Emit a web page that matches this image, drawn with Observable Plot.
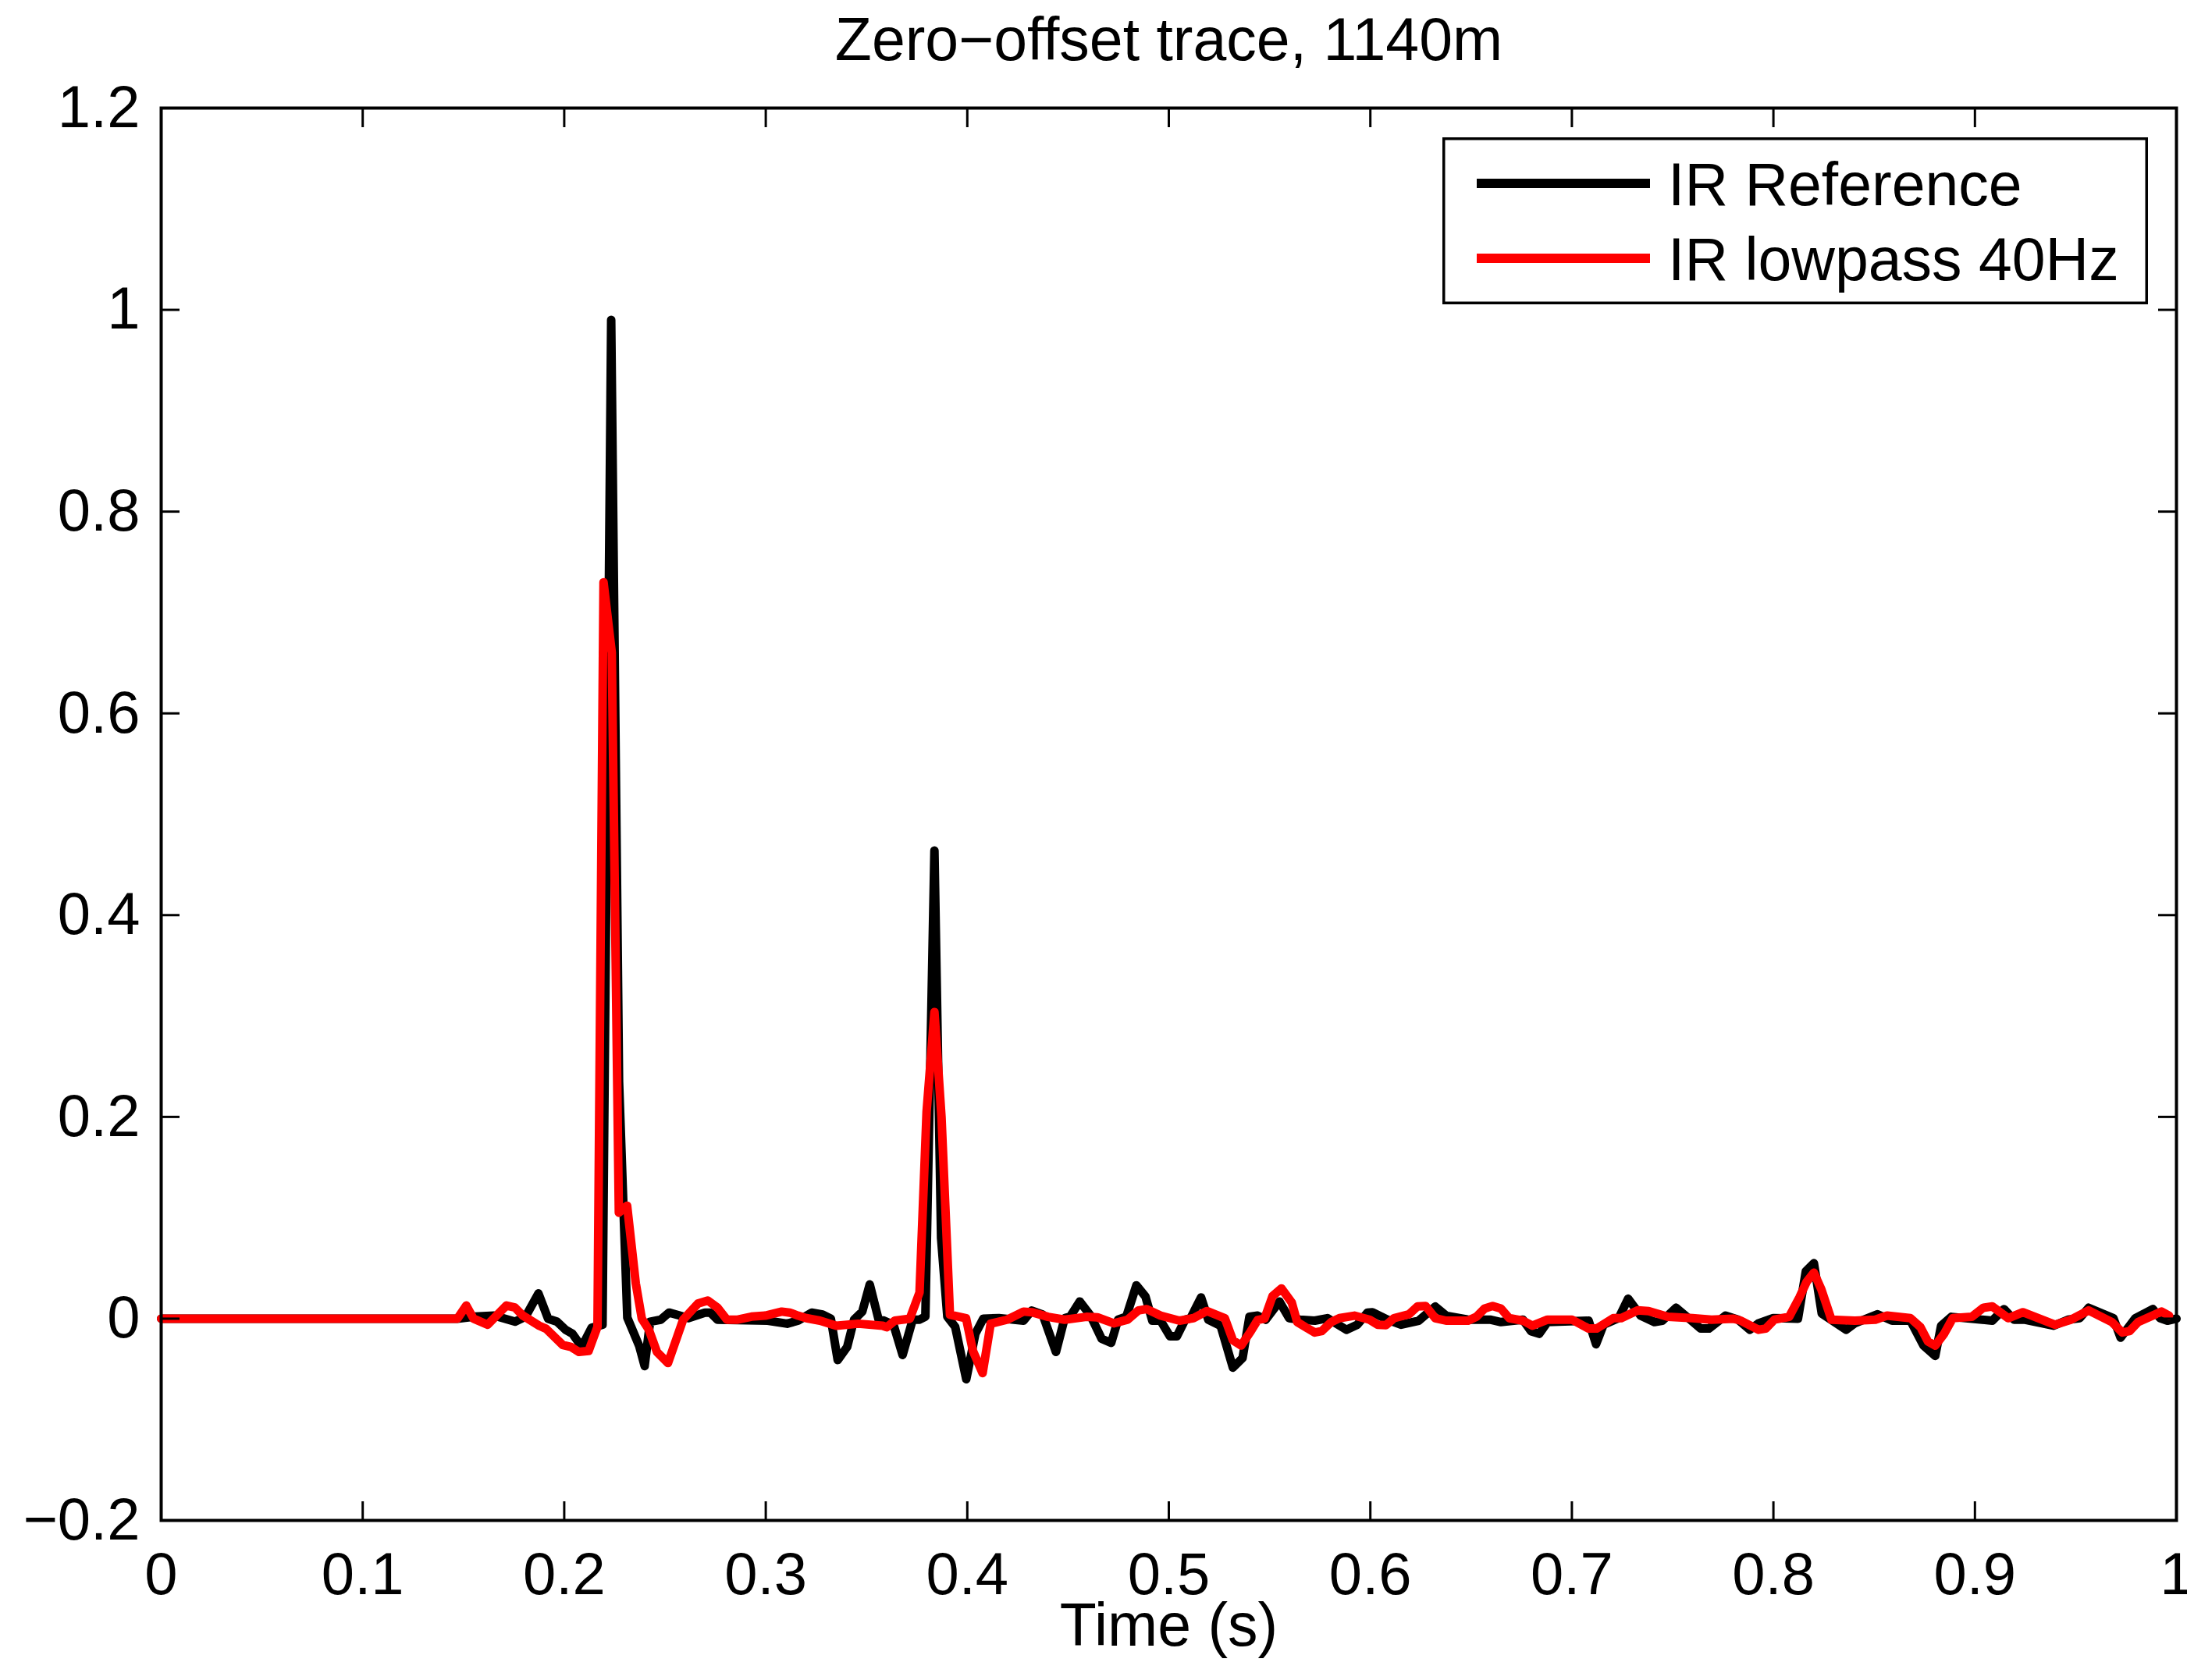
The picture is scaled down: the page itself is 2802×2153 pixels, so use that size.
<!DOCTYPE html>
<html>
<head>
<meta charset="utf-8">
<script src="https://cdn.jsdelivr.net/npm/d3@7"></script>
<script src="https://cdn.jsdelivr.net/npm/@observablehq/plot@0.6"></script>
<style>
html, body { margin: 0; padding: 0; background: #fff; overflow: hidden; }
#wrap { position: relative; width: 2802px; height: 2153px; }
#legend { position: absolute; left: 1848px; top: 176px; }
</style>
</head>
<body>
<div id="wrap"></div>
<script>
const chartTitle = "Zero\u2212offset trace, 1140m";
const xLabel = "Time (s)";
const xTicks = [0, 0.1, 0.2, 0.3, 0.4, 0.5, 0.6, 0.7, 0.8, 0.9, 1];
const yTicks = [-0.2, 0, 0.2, 0.4, 0.6, 0.8, 1, 1.2];
const seriesNames = ["IR Reference", "IR lowpass 40Hz"];
const seriesColors = ["#000000", "#ff0000"];

// [time (s), amplitude]
const irReference = [
[0,0],[0.147,0],[0.1557,0.002],[0.1652,0.003],[0.1756,-0.003],[0.1808,0.002],[0.1872,0.025],[0.192,0],[0.1964,-0.003],[0.2007,-0.011],[0.2041,-0.015],[0.2087,-0.028],[0.2136,-0.009],[0.219,-0.006],[0.2233,0.99],[0.2272,0.235],[0.2313,0.001],[0.2372,-0.027],[0.2399,-0.047],[0.2426,-0.003],[0.2479,-0.001],[0.252,0.006],[0.2574,0.003],[0.2616,0.0005],[0.2698,0.006],[0.2725,0.006],[0.276,-0.001],[0.301,-0.002],[0.3106,-0.005],[0.316,-0.002],[0.3228,0.006],[0.3282,0.004],[0.3323,0],[0.3357,-0.041],[0.3404,-0.028],[0.3438,-0.001],[0.3479,0.007],[0.3516,0.034],[0.356,-0.001],[0.3587,-0.002],[0.3634,-0.006],[0.3679,-0.036],[0.3729,-0.001],[0.3763,-0.001],[0.3792,0.002],[0.3837,0.464],[0.387,0.08],[0.3901,0.002],[0.394,-0.008],[0.3995,-0.06],[0.404,-0.015],[0.4079,0],[0.4157,0.0005],[0.4279,-0.002],[0.432,0.008],[0.4374,0.004],[0.444,-0.033],[0.4483,0.0005],[0.451,0.002],[0.4558,0.017],[0.4612,0.003],[0.4667,-0.02],[0.4714,-0.024],[0.4748,-0.001],[0.4789,0.002],[0.4839,0.033],[0.4884,0.022],[0.4918,-0.002],[0.4959,-0.002],[0.5006,-0.0175],[0.504,-0.0175],[0.5081,-0.001],[0.5108,0.0005],[0.516,0.021],[0.5196,-0.001],[0.5257,-0.007],[0.5318,-0.0485],[0.5366,-0.039],[0.54,0.002],[0.5441,0.003],[0.5481,-0.001],[0.5549,0.017],[0.5597,0.0005],[0.5651,-0.001],[0.5724,-0.002],[0.5787,0.0005],[0.5881,-0.011],[0.5935,-0.006],[0.5986,0.006],[0.601,0.0064],[0.6085,-0.001],[0.6152,-0.006],[0.624,-0.002],[0.6322,0.012],[0.6376,0.003],[0.6485,-0.001],[0.6594,-0.001],[0.6648,-0.0034],[0.6757,-0.001],[0.6797,-0.0124],[0.6838,-0.015],[0.6879,-0.0034],[0.7083,-0.002],[0.712,-0.0253],[0.7157,-0.006],[0.7232,0.0005],[0.7279,0.0198],[0.7341,0.003],[0.7409,-0.0034],[0.7449,-0.002],[0.7517,0.0108],[0.7571,0.0018],[0.7639,-0.0098],[0.768,-0.0098],[0.7762,0.003],[0.7825,-0.001],[0.7883,-0.011],[0.7926,-0.0046],[0.7999,0.0005],[0.8122,0],[0.8161,0.047],[0.8201,0.055],[0.824,0.005],[0.8361,-0.011],[0.8404,-0.0046],[0.8516,0.0044],[0.8589,-0.002],[0.868,-0.002],[0.8745,-0.0266],[0.8803,-0.0369],[0.8832,-0.0072],[0.8883,0.0018],[0.9086,-0.002],[0.9144,0.0095],[0.9194,-0.001],[0.9245,-0.001],[0.939,-0.007],[0.9462,-0.001],[0.952,0.0005],[0.9564,0.0108],[0.9687,0.0005],[0.9723,-0.0188],[0.9796,0.0005],[0.9883,0.0095],[0.9919,0.0005],[0.9955,-0.002],[1,0]
];

const irLowpass = [
[0,0],[0.147,0],[0.1514,0.013],[0.155,0],[0.162,-0.006],[0.1713,0.013],[0.1755,0.011],[0.1795,0.003],[0.1876,-0.007],[0.191,-0.01],[0.1992,-0.026],[0.2033,-0.028],[0.2073,-0.033],[0.2121,-0.032],[0.2165,-0.008],[0.2195,0.73],[0.2236,0.66],[0.2271,0.105],[0.2312,0.112],[0.2355,0.035],[0.2385,0],[0.242,-0.011],[0.246,-0.033],[0.2515,-0.044],[0.259,-0.001],[0.2664,0.015],[0.2712,0.018],[0.276,0.011],[0.2807,-0.001],[0.2861,-0.001],[0.2929,0.002],[0.2997,0.003],[0.3079,0.007],[0.3119,0.006],[0.316,0.003],[0.3201,0.0005],[0.3269,-0.002],[0.335,-0.007],[0.3459,-0.005],[0.358,-0.007],[0.36,-0.0085],[0.364,-0.002],[0.3715,0],[0.3763,0.026],[0.3798,0.205],[0.3837,0.304],[0.3872,0.2],[0.3914,0.004],[0.3994,0.0005],[0.4028,-0.032],[0.4076,-0.054],[0.4116,-0.005],[0.4198,-0.001],[0.4279,0.007],[0.432,0.0064],[0.4401,0.0018],[0.4483,-0.001],[0.4591,0.0018],[0.4646,0.0013],[0.4727,-0.0046],[0.4796,-0.001],[0.4849,0.0082],[0.489,0.0095],[0.4959,0.003],[0.5053,-0.002],[0.5122,0.0005],[0.5189,0.0075],[0.5278,0.0005],[0.5318,-0.0214],[0.5359,-0.0266],[0.5407,-0.0124],[0.5441,-0.0013],[0.5475,0],[0.5515,0.0224],[0.5559,0.03],[0.561,0.016],[0.5637,-0.0034],[0.569,-0.0098],[0.5724,-0.0137],[0.5758,-0.0124],[0.5806,-0.0034],[0.5847,0.0005],[0.5921,0.003],[0.5996,-0.001],[0.6037,-0.006],[0.6078,-0.0064],[0.6118,0.0005],[0.6192,0.0044],[0.6234,0.0121],[0.6274,0.0126],[0.6322,0.0005],[0.6376,-0.002],[0.6485,-0.002],[0.6526,0.0018],[0.6567,0.01],[0.6607,0.0126],[0.6648,0.01],[0.6689,0.0005],[0.6757,-0.002],[0.6804,-0.007],[0.6879,-0.001],[0.7001,-0.001],[0.7083,-0.0098],[0.7123,-0.0098],[0.7205,0.0005],[0.7245,0.0005],[0.7327,0.0082],[0.7381,0.0075],[0.7476,0.0018],[0.7598,0.0005],[0.7693,-0.001],[0.78,0],[0.7839,-0.002],[0.7926,-0.011],[0.7962,-0.0098],[0.8005,-0.001],[0.8078,0.0018],[0.8129,0.021],[0.8165,0.0366],[0.8201,0.0456],[0.8238,0.0289],[0.8288,-0.001],[0.8404,-0.002],[0.8506,-0.001],[0.8564,0.003],[0.868,0.0005],[0.873,-0.0085],[0.8767,-0.0227],[0.8803,-0.0266],[0.8847,-0.015],[0.889,0.0005],[0.8984,0.0018],[0.9042,0.0108],[0.9086,0.0121],[0.9165,0.0005],[0.9238,0.0064],[0.9397,-0.006],[0.9477,-0.001],[0.9564,0.0082],[0.968,-0.0034],[0.9731,-0.0137],[0.9767,-0.0124],[0.981,-0.0034],[0.9926,0.007],[0.9963,0.003]
];

const seriesData = [irReference, irLowpass];
const fmt = d => (d < 0 ? "\u2212" : "") + String(Math.abs(d));
const FONT = "'Liberation Sans', Arial, Helvetica, sans-serif";

const chart = Plot.plot({
  width: 2802,
  height: 2153,
  marginLeft: 206,
  marginRight: 14,
  marginTop: 138,
  marginBottom: 205,
  style: { fontFamily: FONT, fontSize: "76px", color: "#000", background: "#fff", overflow: "visible" },
  x: { domain: [0, 1] },
  y: { domain: [-0.2, 1.2] },
  marks: [
    ...seriesData.map((s, i) => Plot.line(s, {
      x: d => d[0], y: d => d[1],
      stroke: seriesColors[i], strokeWidth: 11,
      strokeLinejoin: "round", strokeLinecap: "round"
    })),
    Plot.frame({ stroke: "#000", strokeWidth: 4 }),
    Plot.axisX(xTicks, { anchor: "bottom", tickSize: -24, tickPadding: 65, tickFormat: fmt, strokeWidth: 3, label: null }),
    Plot.axisX(xTicks, { anchor: "top", tickSize: -24, fill: "none", strokeWidth: 3, label: null }),
    Plot.axisY(yTicks, { anchor: "left", tickSize: -24, tickPadding: 51, tickFormat: fmt, strokeWidth: 3, label: null }),
    Plot.axisY(yTicks, { anchor: "right", tickSize: -24, fill: "none", strokeWidth: 3, label: null }),
    Plot.text([chartTitle], { frameAnchor: "top", lineAnchor: "top", text: d => d, dy: -116, fontSize: 77 }),
    Plot.text([xLabel], { frameAnchor: "bottom", lineAnchor: "bottom", text: d => d, dy: 160, fontSize: 77 })
  ]
});
document.getElementById("wrap").appendChild(chart);

// legend box (MATLAB style, inside the axes)
const leg = d3.select("#wrap").append("svg")
  .attr("id", "legend").attr("width", 904).attr("height", 214)
  .style("font-family", FONT);
leg.append("rect")
  .attr("x", 1.75).attr("y", 1.75).attr("width", 900.5).attr("height", 210.5)
  .attr("fill", "#fff").attr("stroke", "#000").attr("stroke-width", 3.5);
const rowsY = [59, 155];
seriesNames.forEach((name, i) => {
  leg.append("line")
    .attr("x1", 44).attr("x2", 266).attr("y1", rowsY[i]).attr("y2", rowsY[i])
    .attr("stroke", seriesColors[i]).attr("stroke-width", 12);
  leg.append("text")
    .attr("x", 289).attr("y", rowsY[i]).attr("dy", "0.36em")
    .attr("font-size", 77).attr("fill", "#000")
    .text(name);
});
</script>
</body>
</html>
